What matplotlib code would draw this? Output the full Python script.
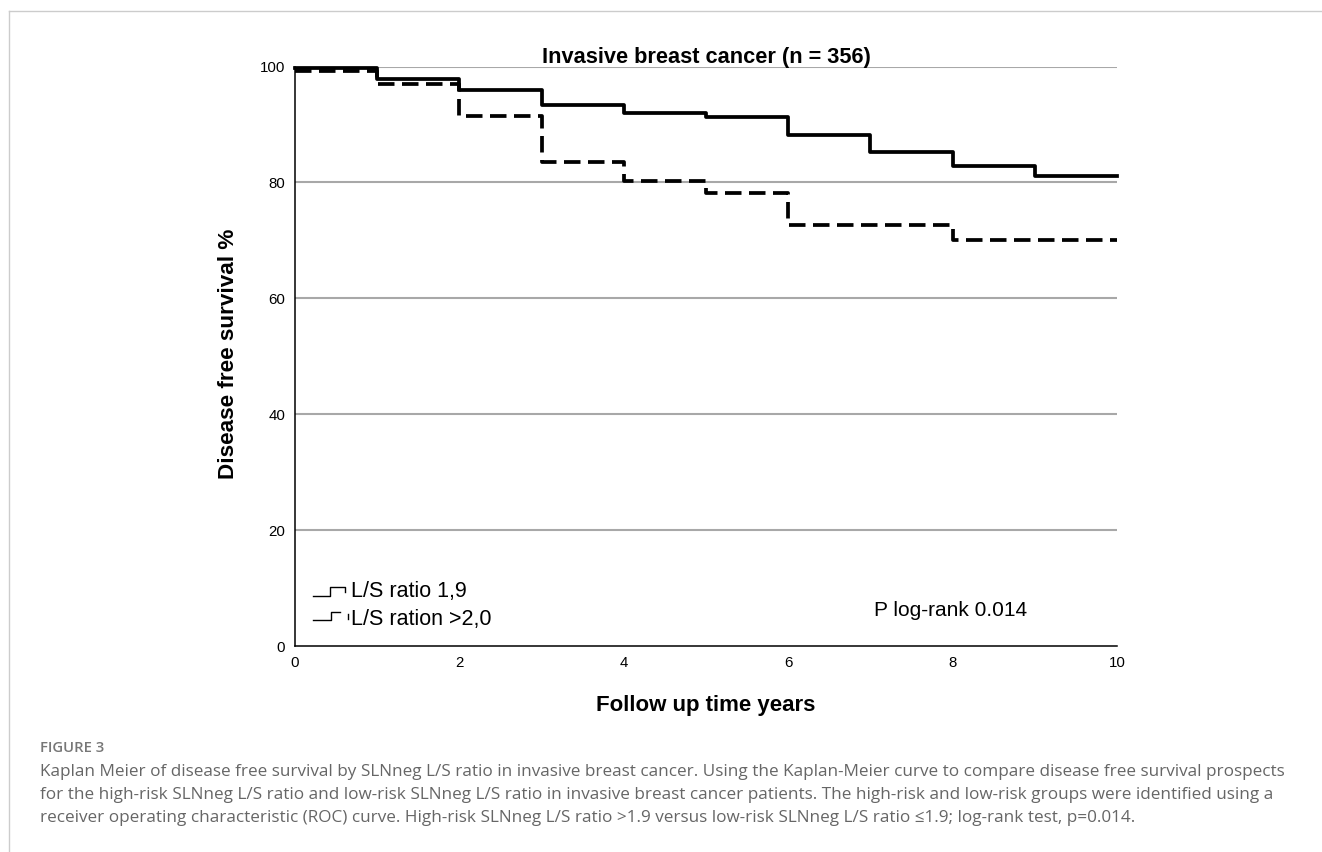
import matplotlib.pyplot as plt
from matplotlib.lines import Line2D

plt.rcParams['font.family'] = ['Liberation Sans', 'DejaVu Sans']

# --- data ---
years = [0, 1, 2, 3, 4, 5, 6, 7, 8, 9, 10]
low_risk = [99.8, 97.9, 96.0, 93.3, 92.0, 91.3, 88.1, 85.3, 82.8, 81.1, 81.1]
high_risk = [99.2, 96.9, 91.4, 83.5, 80.2, 78.1, 72.6, 72.6, 70.0, 70.0, 70.0]
y_ticks = [0, 20, 40, 60, 80, 100]
x_ticks = [0, 2, 4, 6, 8, 10]
legend_labels = ['L/S ratio 1,9', 'L/S ration >2,0']
caption = ("Kaplan Meier of disease free survival by SLNneg L/S ratio in invasive breast cancer. "
           "Using the Kaplan-Meier curve to compare disease free survival prospects\n"
           "for the high-risk SLNneg L/S ratio and low-risk SLNneg L/S ratio in invasive breast cancer "
           "patients. The high-risk and low-risk groups were identified using a\n"
           "receiver operating characteristic (ROC) curve. High-risk SLNneg L/S ratio >1.9 versus "
           "low-risk SLNneg L/S ratio \u22641.9; log-rank test, p=0.014.")

W, H = 1322, 852
fig = plt.figure(figsize=(W / 100, H / 100), dpi=100, facecolor='white')
ax = fig.add_axes([295 / W, 1 - 646 / H, 822 / W, 579.5 / H])

# gridlines
for yv in y_ticks[1:]:
    ax.axhline(yv, color='#a8a8a8', lw=1.5, zorder=0)

ax.step(years, low_risk, where='post', color='black', lw=2.7, clip_on=False, zorder=3)
ax.step(years, high_risk, where='post', color='black', lw=2.7, dashes=(4.4, 2.0),
        clip_on=False, zorder=3)

ax.set_xlim(0, 10)
ax.set_ylim(0, 100)
ax.set_xticks(x_ticks)
ax.set_yticks(y_ticks)
ax.tick_params(length=0, labelsize=10.8, pad=7)
for s in ['top', 'right']:
    ax.spines[s].set_visible(False)
for s in ['left', 'bottom']:
    ax.spines[s].set_linewidth(1.1)

def fx(px):
    return (px - 295) / 822.0

def fy(py):
    return (646 - py) / 579.5

tr = ax.transAxes
ax.text(0.5, fy(63.5), 'Invasive breast cancer (n = 356)', transform=tr, fontsize=15.7,
        fontweight='bold', ha='center', va='baseline')
fig.text(706 / W, 1 - 705 / H, 'Follow up time years', fontsize=16, fontweight='bold',
         ha='center', va='center')
fig.text(228 / W, 1 - 354 / H, 'Disease free survival %', fontsize=16.2, fontweight='bold',
         ha='center', va='center', rotation=90)

# legend with little step glyphs
ax.add_line(Line2D([fx(313), fx(330), fx(330), fx(345), fx(345)],
                   [fy(596), fy(596), fy(587), fy(587), fy(592)],
                   transform=tr, color='black', lw=1.0))
ax.add_line(Line2D([fx(313), fx(331), fx(331), fx(340)],
                   [fy(620), fy(620), fy(612), fy(612)],
                   transform=tr, color='black', lw=1.0))
ax.add_line(Line2D([fx(348), fx(348)], [fy(614), fy(619)],
                   transform=tr, color='black', lw=1.0))
ax.text(fx(351), fy(592), legend_labels[0], transform=tr, fontsize=15.5, va='center')
ax.text(fx(351), fy(620), legend_labels[1], transform=tr, fontsize=15.5, va='center')
ax.text(fx(874), fy(610), 'P log-rank 0.014', transform=tr, fontsize=15, va='center')

# page frame
fig.add_artist(Line2D([9 / W, 1], [1 - 11 / H, 1 - 11 / H], color='#cccccc', lw=1.0))
fig.add_artist(Line2D([9 / W, 9 / W], [0, 1 - 11 / H], color='#cccccc', lw=1.0))

fig.text(40 / W, 1 - 748 / H, 'FIGURE 3', fontsize=10.7, color='#777777', va='center',
         fontweight='semibold', family=['Open Sans', 'DejaVu Sans'])
fig.text(40 / W, 1 - 795 / H, caption, fontsize=12.3, color='#666666', va='center',
         linespacing=1.6, family=['Open Sans', 'DejaVu Sans'])

fig.savefig('out.png', dpi=100)
